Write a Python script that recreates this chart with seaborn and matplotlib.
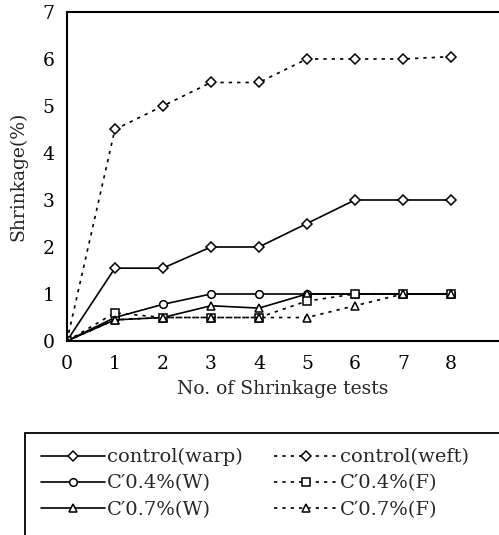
import matplotlib
matplotlib.use('Agg')
import matplotlib.pyplot as plt
import seaborn as sns
import pandas as pd
from matplotlib.patches import Rectangle

# Data
tests = [0, 1, 2, 3, 4, 5, 6, 7, 8]
control_warp = [0, 1.55, 1.55, 2.0, 2.0, 2.5, 3.0, 3.0, 3.0]
control_weft = [0, 4.5, 5.0, 5.5, 5.5, 6.0, 6.0, 6.0, 6.05]
c04_w = [0, 0.5, 0.78, 1.0, 1.0, 1.0, 1.0, 1.0, 1.0]
c04_f = [0, 0.6, 0.5, 0.5, 0.5, 0.85, 1.0, 1.0, 1.0]
c07_w = [0, 0.45, 0.5, 0.75, 0.7, 1.0, 1.0, 1.0, 1.0]
c07_f = [0, 0.45, 0.5, 0.5, 0.5, 0.5, 0.75, 1.0, 1.0]

dotted = (0, (2, 3))
series = [
    ("control(warp)", control_warp, 'D', '-'),
    ("C\u20320.4%(W)", c04_w, 'o', '-'),
    ("C\u20320.7%(W)", c07_w, '^', '-'),
    ("control(weft)", control_weft, 'D', dotted),
    ("C\u20320.4%(F)", c04_f, 's', dotted),
    ("C\u20320.7%(F)", c07_f, '^', dotted),
]
msize = {'D': 7.5, 'o': 9, '^': 9.5, 's': 8.5}

sns.set_style('white')
plt.rcParams['font.family'] = ['DejaVu Serif']
plt.rcParams['mathtext.fontset'] = 'dejavuserif'

fig = plt.figure(figsize=(4.99, 5.35), dpi=100)
ax = fig.add_axes([0.134, 0.3626, 0.866, 0.615])

for name, vals, mk, ls in series:
    df = pd.DataFrame({'x': tests, 'y': vals})
    sns.lineplot(data=df, x='x', y='y', ax=ax, color='black', linestyle=ls,
                 linewidth=1.2, marker=mk, markersize=msize[mk],
                 markerfacecolor='white', markeredgecolor='black',
                 markeredgewidth=1.1, label=name, legend=False)

ax.set_xlim(0, 9)
ax.set_ylim(0, 7)
ax.set_xticks(range(0, 9))
ax.set_yticks(range(0, 8))
ax.tick_params(axis='both', direction='in', length=4, width=1, labelsize=13.5,
               colors='black')
ax.tick_params(axis='y', pad=9)
ax.tick_params(axis='x', pad=10)
for s in ['left', 'top', 'bottom']:
    ax.spines[s].set_visible(True)
    ax.spines[s].set_color('black')
    ax.spines[s].set_linewidth(1.5)
ax.spines['right'].set_visible(False)

ax.set_xlabel('No. of Shrinkage tests', fontsize=13.5, labelpad=5)
ax.set_ylabel('Shrinkage(%)', fontsize=13.5, labelpad=11)

handles, labels = ax.get_legend_handles_labels()
for h in handles:
    h.set_markersize(5.5)
leg = fig.legend(handles, labels, ncol=2, loc='upper left',
                 bbox_to_anchor=(0.045, 0.197),
                 fontsize=14, frameon=False,
                 handlelength=3.3, handletextpad=0.1, labelspacing=0.42,
                 borderpad=0.45, columnspacing=1.6)

# legend box runs past the right and bottom edge of the figure
fig.patches.append(Rectangle((25 / 499, -0.02), 1.0, 0.02 + 102 / 535,
                             transform=fig.transFigure, fill=False,
                             edgecolor='black', linewidth=1.3))

fig.savefig('out.png', dpi=100)
